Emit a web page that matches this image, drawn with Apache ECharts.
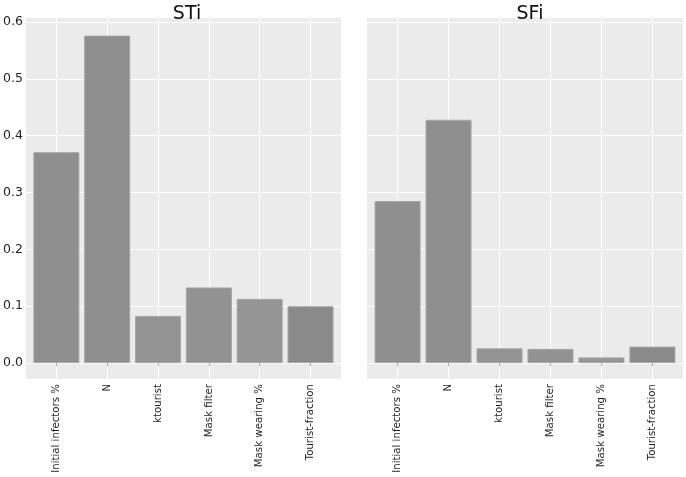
<!DOCTYPE html>
<html>
<head>
<meta charset="utf-8">
<script src="https://cdn.jsdelivr.net/npm/echarts@6/dist/echarts.min.js"></script>
<style>
  html, body { margin: 0; padding: 0; background: #fff; }
  #main { width: 686px; height: 477px; }
</style>
</head>
<body>
<div id="main"></div>
<script>
// parameter names (x categories, placed at 1..6)
var params = ['Initial infectors %', 'N', 'ktourist', 'Mask filter', 'Mask wearing %', 'Tourist-fraction'];
var positions = [1, 2, 3, 4, 5, 6];
// total-order and first-order indices
var sti = [0.371, 0.576, 0.083, 0.133, 0.113, 0.100];
var sfi = [0.285, 0.428, 0.026, 0.025, 0.010, 0.029];
// y tick labels
var yTicks = [0, 0.1, 0.2, 0.3, 0.4, 0.5, 0.6];
// slight shade per bar, as in the picture
var barColors = ['#8f8f8f', '#8f8f8f', '#939393', '#929292', '#959595', '#8a8a8a'];

function barData(vals) {
    var out = [];
    for (var i = 0; i < vals.length; i++) {
        out.push({
            value: [positions[i], vals[i]],
            itemStyle: { color: barColors[i] }
        });
    }
    return out;
}

function xAxisFor(idx) {
    return {
        type: 'value',
        gridIndex: idx,
        min: 0.4,
        max: 6.6,
        axisLine: { show: false },
        axisTick: { show: true, customValues: positions, length: 3, lineStyle: { color: '#aaaaaa' } },
        axisLabel: {
            customValues: positions,
            rotate: 90,
            margin: 5,
            fontSize: 10.2,
            fontFamily: 'DejaVu Sans',
            color: '#1f1f1f',
            formatter: function (v) { return params[Math.round(v) - 1]; }
        },
        splitLine: { show: true, lineStyle: { color: '#ffffff', width: 1 } }
    };
}

function yAxisFor(idx) {
    return {
        type: 'value',
        gridIndex: idx,
        min: -0.028,
        max: 0.607,
        axisLine: { show: false },
        axisTick: { show: false, customValues: yTicks },
        axisLabel: {
            show: idx === 0,
            customValues: yTicks,
            margin: 3,
            fontSize: 12.5,
            fontFamily: 'DejaVu Sans',
            color: '#1f1f1f',
            formatter: function (v) { return v.toFixed(1); }
        },
        splitLine: { show: true, lineStyle: { color: '#ffffff', width: 1 } }
    };
}

var myChart = echarts.init(document.getElementById('main'));

var option = {
    animation: false,
    backgroundColor: '#ffffff',
    title: [
        { text: 'STi', left: 182, top: 0, textAlign: 'center',
          textStyle: { fontFamily: 'DejaVu Sans', fontSize: 19, fontWeight: 'normal', color: '#111' } },
        { text: 'SFi', left: 525, top: 0, textAlign: 'center',
          textStyle: { fontFamily: 'DejaVu Sans', fontSize: 19, fontWeight: 'normal', color: '#111' } }
    ],
    grid: [
        { left: 24, top: 18, width: 317, height: 361, show: true, backgroundColor: '#ebebeb', borderWidth: 0 },
        { left: 367, top: 18, width: 316, height: 361, show: true, backgroundColor: '#ebebeb', borderWidth: 0 }
    ],
    xAxis: [xAxisFor(0), xAxisFor(1)],
    yAxis: [yAxisFor(0), yAxisFor(1)],
    series: [
        {
            name: 'STi', type: 'bar', xAxisIndex: 0, yAxisIndex: 0,
            barWidth: 46,
            itemStyle: { borderColor: '#a6a6a6', borderWidth: 1 },
            data: barData(sti)
        },
        {
            name: 'SFi', type: 'bar', xAxisIndex: 1, yAxisIndex: 1,
            barWidth: 46,
            itemStyle: { borderColor: '#a6a6a6', borderWidth: 1 },
            data: barData(sfi)
        }
    ]
};

myChart.setOption(option);
</script>
</body>
</html>
